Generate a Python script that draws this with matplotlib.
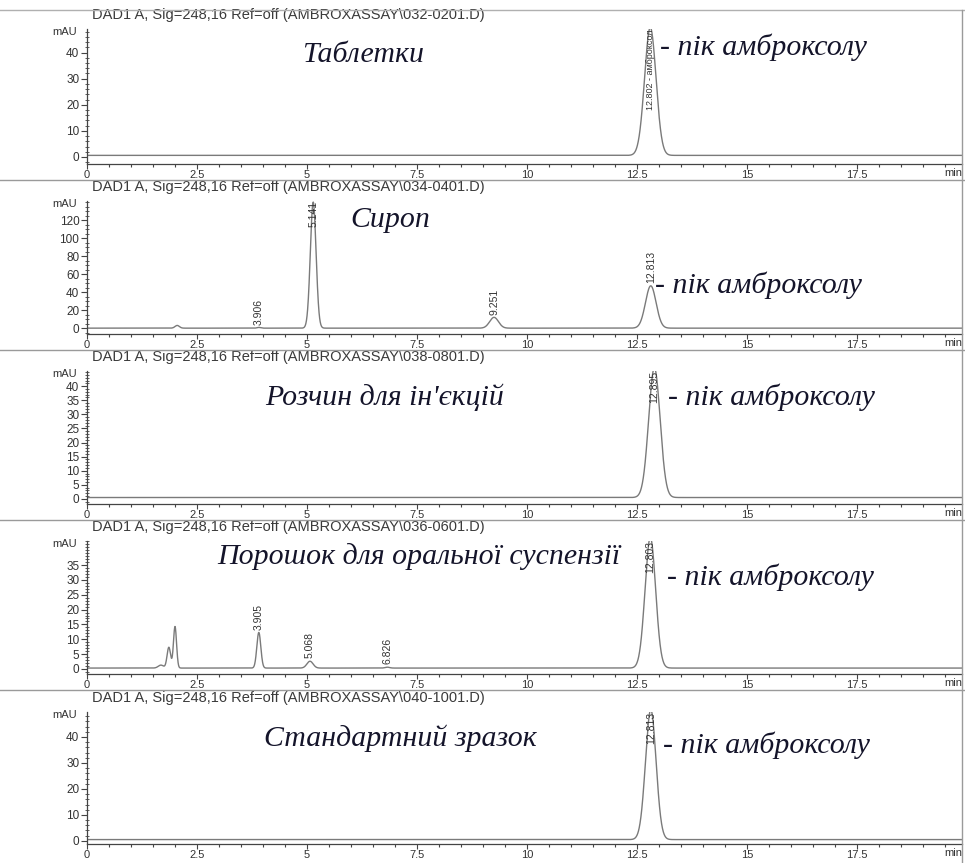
import numpy as np
import matplotlib
matplotlib.use("Agg")
import matplotlib.pyplot as plt
from matplotlib.ticker import MultipleLocator, FuncFormatter
from matplotlib.transforms import offset_copy
from matplotlib.lines import Line2D

# chromatogram files and sample names
files = ["032-0201.D", "034-0401.D", "038-0801.D", "036-0601.D", "040-1001.D"]
samples = ["Таблетки", "Сироп", "Розчин для ін'єкцій",
           "Порошок для оральної суспензії", "Стандартний зразок"]
peak_note = "- пік амброксолу"

# peak tables: retention time (min), height (mAU), sigma (min), label
tab_rt = [12.802]
tab_h = [49]
tab_w = [0.13]
tab_lbl = ["12.802 - амброксол"]

syr_rt = [2.05, 3.906, 5.141, 9.251, 12.813]
syr_h = [3, 0.8, 140, 12, 47]
syr_w = [0.05, 0.04, 0.065, 0.10, 0.12]
syr_lbl = ["", "3.906", "5.141", "9.251", "12.813"]

inj_rt = [12.895]
inj_h = [46]
inj_w = [0.13]
inj_lbl = ["12.895"]

pow_rt = [1.68, 1.86, 2.00, 3.905, 5.068, 6.826, 12.803]
pow_h = [1, 7, 14, 12, 2.3, 0.3, 44]
pow_w = [0.06, 0.04, 0.035, 0.045, 0.07, 0.05, 0.12]
pow_lbl = ["", "", "", "3.905", "5.068", "6.826", "12.803"]

std_rt = [12.813]
std_h = [50]
std_w = [0.12]
std_lbl = ["12.813"]

baselines = [0.6, 0.2, 0.5, 0.3, 0.5]
x_ticks = [0, 2.5, 5, 7.5, 10, 12.5, 15, 17.5]
y_tick_max = [40, 120, 40, 35, 40]

peaks = [(tab_rt, tab_h, tab_w, tab_lbl), (syr_rt, syr_h, syr_w, syr_lbl),
         (inj_rt, inj_h, inj_w, inj_lbl), (pow_rt, pow_h, pow_w, pow_lbl),
         (std_rt, std_h, std_w, std_lbl)]

# layout (pixels of a 965x863 canvas)
W, H = 965, 863
ax_left, ax_right = 87, 962
ax_top = [29, 201, 371, 541, 712]
ax_bot = [164, 334, 504, 674, 844]
ylims = [(-2.7, 49), (-6.3, 141.4), (-1.8, 45.4), (-1.7, 43.1), (-1.2, 49.6)]
ymajor = [10, 20, 5, 5, 10]
yminor = [2, 5, 1, 1, 2]
sample_xy = [(363, 55), (390, 220), (385, 397), (419, 557), (400, 738)]
note_xy = [(660, 47), (655, 285), (668, 397), (667, 577), (663, 745)]
separators = [180, 350, 520, 690]

gray = "#444444"
trace = "#7a7a7a"
ink = "#14142a"

fig = plt.figure(figsize=(W / 100, H / 100), dpi=100)

t = np.linspace(0, 20, 6000)
for i in range(5):
    rt, h, w, lbl = peaks[i]
    ax = fig.add_axes([ax_left / W, 1 - ax_bot[i] / H,
                       (ax_right - ax_left) / W, (ax_bot[i] - ax_top[i]) / H])
    y = np.full_like(t, baselines[i])
    for r, hh, ww in zip(rt, h, w):
        y = y + hh * np.exp(-0.5 * ((t - r) / ww) ** 2)
    ax.plot(t, y, color=trace, lw=1.0)
    ax.set_xlim(0, (ax_right - ax_left) / 44.0)
    ax.set_ylim(*ylims[i])

    for side in ["top", "right"]:
        ax.spines[side].set_visible(False)
    for side in ["left", "bottom"]:
        ax.spines[side].set_color(gray)
        ax.spines[side].set_linewidth(0.9)

    ax.set_xticks(x_ticks)
    ax.xaxis.set_major_formatter(FuncFormatter(lambda v, p: "%g" % v))
    ax.xaxis.set_minor_locator(MultipleLocator(0.5))
    ax.set_yticks(np.arange(0, y_tick_max[i] + 1, ymajor[i]))
    ax.yaxis.set_minor_locator(MultipleLocator(yminor[i]))
    ax.tick_params(axis="y", which="major", colors=gray, labelcolor="#333333",
                   labelsize=8.5, length=4, width=0.8, pad=1.5)
    ax.tick_params(axis="x", which="major", colors=gray, labelcolor="#333333",
                   labelsize=8, length=3.5, width=0.8, pad=0.5)
    ax.tick_params(axis="y", which="minor", colors=gray, length=2.5,
                   width=0.6, direction="inout")
    ax.tick_params(axis="x", which="minor", colors=gray, length=2, width=0.8)
    for lab in ax.get_xticklabels() + ax.get_yticklabels():
        lab.set_family("Liberation Sans")

    mau = offset_copy(ax.transAxes, fig=fig, y=-2, units="points")
    ax.text(-0.012, 1.0, "mAU", transform=mau, ha="right", va="center",
            fontsize=8, color="#333333", family="Liberation Sans")
    ax.text(1.0, -0.03, "min", transform=ax.transAxes, ha="right", va="top",
            fontsize=8, color="#333333", family="Liberation Sans")

    hdr = offset_copy(ax.transAxes, fig=fig, y=10, units="points")
    ax.text(0.006, 1.0, "DAD1 A, Sig=248,16 Ref=off (AMBROXASSAY\\" + files[i] + ")",
            transform=hdr, ha="left", va="center", fontsize=10.5,
            color="#3a3a3a", family="Liberation Sans")

    top = ylims[i][1]
    for r, hh, s in zip(rt, h, lbl):
        if not s:
            continue
        fs = 6.5 if len(s) > 7 else 7.5
        if hh + baselines[i] > 0.75 * top:
            ax.text(r, top, s, rotation=90, ha="center", va="top",
                    fontsize=fs, color="#333333", family="Liberation Sans")
        else:
            ax.annotate(s, (r, hh + baselines[i]), xytext=(0, 2),
                        textcoords="offset points", rotation=90,
                        ha="center", va="bottom", fontsize=fs,
                        color="#333333", family="Liberation Sans")

    sx, sy = sample_xy[i]
    fig.text(sx / W, 1 - sy / H, samples[i], ha="center", va="center",
             fontsize=21.5, style="italic", family="Liberation Serif", color=ink)
    nx, ny = note_xy[i]
    fig.text(nx / W, 1 - ny / H, peak_note, ha="left", va="center",
             fontsize=21.5, style="italic", family="Liberation Serif", color=ink)

# frame lines of the original printout
fig.add_artist(Line2D([0, 1], [1 - 10 / H, 1 - 10 / H], color="#b0b0b0", lw=1))
for yy in separators:
    fig.add_artist(Line2D([0, 1], [1 - yy / H, 1 - yy / H], color="#9a9a9a", lw=1))
fig.add_artist(Line2D([962 / W, 962 / W], [0, 1 - 10 / H], color="#9a9a9a", lw=1))

fig.savefig("out.png", dpi=100)
